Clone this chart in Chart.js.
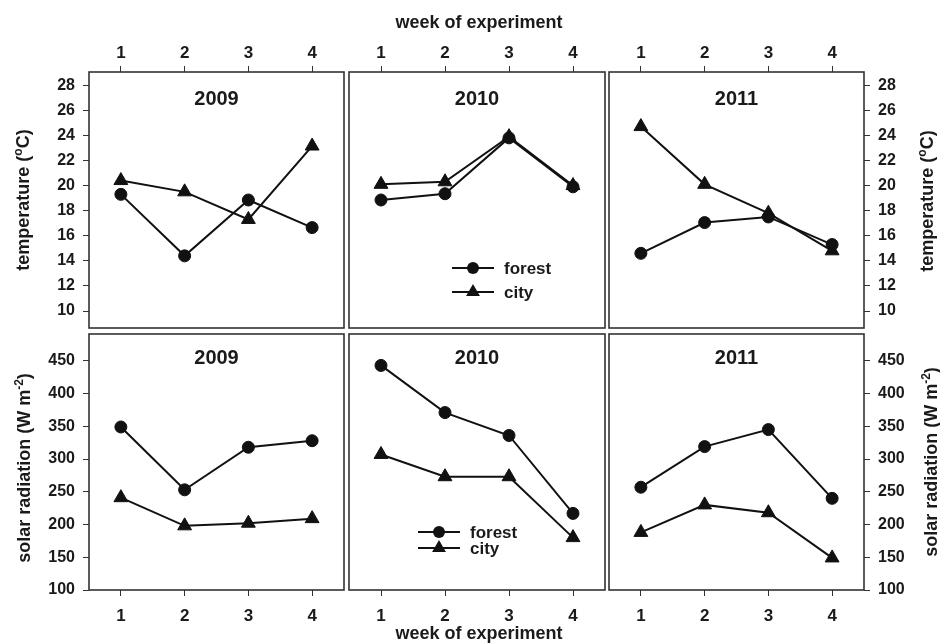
<!DOCTYPE html>
<html>
<head>
<meta charset="utf-8">
<script src="https://cdn.jsdelivr.net/npm/chart.js@4.4.0/dist/chart.umd.min.js"></script>
<style>
  body { margin: 0; background: #fff; }
  #wrap { position: relative; width: 940px; height: 644px; overflow: hidden;
          font-family: "Liberation Sans", Arial, sans-serif; font-weight: bold; color: #1a1a1a; }
  #wrap canvas { position: absolute; left: 0; top: 0; }
  .lbl { position: absolute; white-space: nowrap; font-size: 18px; line-height: 18px; }
  .horz { transform: translate(-50%, -50%); }
  .vert { transform: translate(-50%, -50%) rotate(-90deg); }
  sup { font-size: 12px; line-height: 0; vertical-align: 7px; }
</style>
</head>
<body>
<div id="wrap">
  <canvas id="t2009" width="940" height="644"></canvas>
  <canvas id="t2010" width="940" height="644"></canvas>
  <canvas id="t2011" width="940" height="644"></canvas>
  <canvas id="s2009" width="940" height="644"></canvas>
  <canvas id="s2010" width="940" height="644"></canvas>
  <canvas id="s2011" width="940" height="644"></canvas>

  <div class="lbl horz" style="left:479px; top:22px;">week of experiment</div>
  <div class="lbl horz" style="left:479px; top:633px;">week of experiment</div>
  <div class="lbl vert" style="left:23px; top:200px;">temperature (<sup>o</sup>C)</div>
  <div class="lbl vert" style="left:927px; top:201px;">temperature (<sup>o</sup>C)</div>
  <div class="lbl vert" style="left:24px; top:468px;">solar radiation (W m<sup>-2</sup>)</div>
  <div class="lbl vert" style="left:931px; top:462px;">solar radiation (W m<sup>-2</sup>)</div>
</div>

<script>
// data
const weeks = [1, 2, 3, 4];
const weekTicks = [1, 2, 3, 4];
const tempTicks = [10, 12, 14, 16, 18, 20, 22, 24, 26, 28];
const solarTicks = [100, 150, 200, 250, 300, 350, 400, 450];
const seriesNames = ['forest', 'city'];

const tempForest2009 = [19.3, 14.4, 18.85, 16.65];
const tempCity2009 = [20.4, 19.5, 17.3, 23.15];
const tempForest2010 = [18.85, 19.35, 23.8, 19.9];
const tempCity2010 = [20.1, 20.3, 23.9, 20.0];
const tempForest2011 = [14.6, 17.05, 17.5, 15.3];
const tempCity2011 = [24.7, 20.1, 17.8, 14.8];

const solarForest2009 = [349, 253, 318, 328];
const solarCity2009 = [241, 198, 202, 209];
const solarForest2010 = [443, 371, 336, 217];
const solarCity2010 = [307, 273, 273, 180];
const solarForest2011 = [257, 319, 345, 240];
const solarCity2011 = [188, 230, 218, 149];

const INK = '#1a1a1a';
const FONT = '"Liberation Sans", Arial, sans-serif';

// frame, panel title and in-panel legend
const panelDecor = {
  id: 'panelDecor',
  afterDatasetsDraw(chart, args, opts) {
    const ctx = chart.ctx;
    const a = chart.chartArea;
    ctx.save();
    ctx.strokeStyle = '#333';
    ctx.lineWidth = 1.6;
    ctx.strokeRect(a.left, a.top, a.right - a.left, a.bottom - a.top);

    ctx.fillStyle = INK;
    ctx.font = 'bold 20px ' + FONT;
    ctx.textAlign = 'center';
    ctx.textBaseline = 'alphabetic';
    ctx.fillText(opts.title, (a.left + a.right) / 2, a.top + opts.titleY);

    if (opts.legend) {
      const lg = opts.legend;
      chart.data.datasets.forEach((ds, i) => {
        const x0 = a.left + lg.x;
        const y = a.top + lg.rows[i];
        ctx.strokeStyle = ds.borderColor;
        ctx.lineWidth = 2;
        ctx.beginPath();
        ctx.moveTo(x0, y);
        ctx.lineTo(x0 + 42, y);
        ctx.stroke();
        const cx = x0 + 21;
        const r = ds.pointRadius;
        ctx.fillStyle = ds.borderColor;
        ctx.beginPath();
        if (ds.pointStyle === 'triangle') {
          ctx.moveTo(cx, y - r);
          ctx.lineTo(cx + r * 0.866, y + r / 2);
          ctx.lineTo(cx - r * 0.866, y + r / 2);
          ctx.closePath();
        } else {
          ctx.arc(cx, y, r, 0, Math.PI * 2);
        }
        ctx.fill();
        ctx.fillStyle = INK;
        ctx.font = 'bold 17px ' + FONT;
        ctx.textAlign = 'left';
        ctx.textBaseline = 'middle';
        ctx.fillText(ds.label, x0 + 52, y + 1);
      });
    }
    ctx.restore();
  }
};

function toPoints(values) {
  return weeks.map((w, i) => ({ x: w, y: values[i] }));
}

function makeDataset(name, values, style, radius) {
  return {
    label: name,
    data: toPoints(values),
    borderColor: '#111',
    backgroundColor: '#111',
    borderWidth: 2,
    pointStyle: style,
    pointRadius: radius,
    pointBorderWidth: 1,
    pointBackgroundColor: '#111',
    pointBorderColor: '#111',
    tension: 0
  };
}

function makePanel(id, cfg) {
  const tickGrid = { display: true, drawOnChartArea: false, drawTicks: true, tickLength: 6, tickColor: '#333', lineWidth: 1 };
  new Chart(document.getElementById(id), {
    type: 'line',
    data: {
      datasets: [
        makeDataset(seriesNames[0], cfg.forest, 'circle', 6),
        makeDataset(seriesNames[1], cfg.city, 'triangle', 8)
      ]
    },
    options: {
      responsive: false,
      animation: false,
      devicePixelRatio: 1,
      layout: { padding: cfg.padding },
      plugins: {
        legend: { display: false },
        tooltip: { enabled: false },
        panelDecor: { title: cfg.title, titleY: cfg.titleY, legend: cfg.legend }
      },
      scales: {
        x: {
          type: 'linear',
          position: cfg.xPos,
          min: 0.5,
          max: 4.5,
          afterBuildTicks: s => { s.ticks = weekTicks.map(v => ({ value: v })); },
          afterFit: s => { s.height = cfg.xHeight; },
          grid: tickGrid,
          border: { display: false },
          ticks: { color: INK, font: { family: FONT, size: 17, weight: 'bold' }, padding: cfg.xPad, maxRotation: 0 }
        },
        y: {
          type: 'linear',
          display: cfg.yPos !== null,
          position: cfg.yPos || 'left',
          min: cfg.yMin,
          max: cfg.yMax,
          afterBuildTicks: s => { s.ticks = cfg.yTicks.map(v => ({ value: v })); },
          afterFit: s => { s.width = cfg.yWidth; },
          grid: tickGrid,
          border: { display: false },
          ticks: { color: INK, font: { family: FONT, size: 16, weight: 'bold' }, padding: 8 }
        }
      }
    },
    plugins: [panelDecor]
  });
}

document.addEventListener('DOMContentLoaded', function() {
  const W = 940, H = 644;
  const cols = [[89, 344], [349, 605], [609, 864]];
  const rows = [[72, 328], [334, 590]];
  const tempLegend = { x: 103, rows: [196, 220] };
  const solarLegend = { x: 69, rows: [198, 214] };

  const temp = [
    [tempForest2009, tempCity2009],
    [tempForest2010, tempCity2010],
    [tempForest2011, tempCity2011]
  ];
  const solar = [
    [solarForest2009, solarCity2009],
    [solarForest2010, solarCity2010],
    [solarForest2011, solarCity2011]
  ];
  const years = ['2009', '2010', '2011'];

  years.forEach((yr, c) => {
    const yPos = c === 0 ? 'left' : (c === 2 ? 'right' : null);
    const left = c === 0 ? 0 : cols[c][0];
    const right = c === 2 ? 0 : W - cols[c][1];
    const yWidth = c === 0 ? cols[0][0] : (c === 2 ? W - cols[2][1] : 0);

    // temperature row
    makePanel('t' + yr, {
      forest: temp[c][0], city: temp[c][1], title: yr, titleY: 33,
      legend: c === 1 ? tempLegend : null,
      padding: { left: left, right: right, top: 0, bottom: H - rows[0][1] },
      xPos: 'top', xHeight: rows[0][0], xPad: 2,
      yPos: yPos, yWidth: yWidth, yMin: 8.65, yMax: 29.05, yTicks: tempTicks
    });

    // solar radiation row
    makePanel('s' + yr, {
      forest: solar[c][0], city: solar[c][1], title: yr, titleY: 30,
      legend: c === 1 ? solarLegend : null,
      padding: { left: left, right: right, top: rows[1][0], bottom: 0 },
      xPos: 'bottom', xHeight: H - rows[1][1], xPad: 10,
      yPos: yPos, yWidth: yWidth, yMin: 100, yMax: 491, yTicks: solarTicks
    });
  });
});
</script>
</body>
</html>
